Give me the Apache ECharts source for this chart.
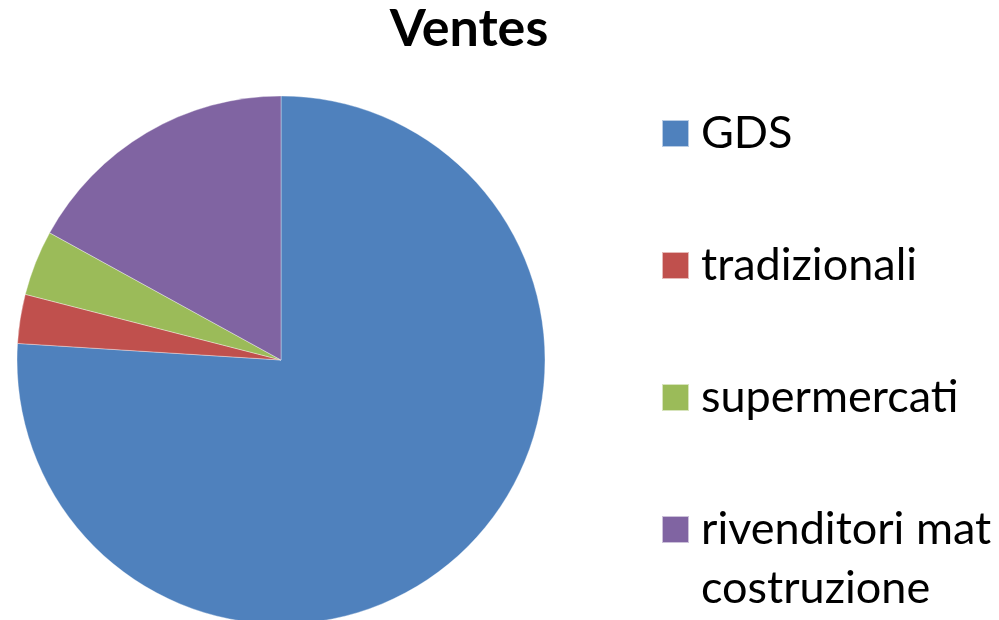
<!DOCTYPE html>
<html>
<head>
<meta charset="utf-8">
<title>Ventes</title>
<script src="https://cdn.jsdelivr.net/npm/echarts@6/dist/echarts.min.js"></script>
<style>
  html, body { margin: 0; padding: 0; background: #fff; }
  #chart { width: 999px; height: 620px; }
</style>
</head>
<body>
<div id="chart"></div>
<script>
// dati della torta
const categories = ['GDS', 'tradizionali', 'supermercati', 'rivenditori mat costruzione'];
const values = [76, 3, 4, 17];
const colors = ['#4F81BD', '#C0504D', '#9BBB59', '#8064A2'];

const FONT = 'Lato, "Noto Sans", sans-serif';

const pieData = categories.map((name, i) => ({ name: name, value: values[i] }));

const legendText = {
  color: '#000',
  fontFamily: FONT,
  fontSize: 45,
  lineHeight: 52,
  padding: [0, 0, 0, 7]
};

const chart = echarts.init(document.getElementById('chart'), null, { renderer: 'canvas' });

chart.setOption({
  animation: false,
  color: colors,
  title: {
    text: 'Ventes',
    left: 469,
    textAlign: 'center',
    top: 3,
    padding: 0,
    textStyle: {
      fontFamily: FONT,
      fontWeight: 'bold',
      fontSize: 52,
      color: '#000'
    }
  },
  legend: [
    {
      orient: 'vertical',
      left: 661,
      top: 107.5,
      padding: 0,
      itemWidth: 27,
      itemHeight: 27,
      itemGap: 80,
      icon: 'rect',
      selectedMode: false,
      data: categories.slice(0, 3),
      textStyle: legendText
    },
    {
      // ultima voce su due righe: riga vuota sopra, così la prima riga sta al centro del quadratino
      orient: 'vertical',
      left: 661,
      top: 441,
      padding: 0,
      itemWidth: 27,
      itemHeight: 27,
      icon: 'rect',
      selectedMode: false,
      data: categories.slice(3),
      formatter: name => '\n' + name.replace('mat ', 'mat\n'),
      textStyle: Object.assign({}, legendText, { lineHeight: 59 })
    }
  ],
  series: [
    {
      type: 'pie',
      center: [281, 360],
      radius: 264,
      startAngle: 90,
      clockwise: true,
      label: { show: false },
      labelLine: { show: false },
      itemStyle: { borderColor: 'rgba(255,255,255,0.6)', borderWidth: 0.6 },
      emphasis: { disabled: true },
      data: pieData
    }
  ]
});
</script>
</body>
</html>
